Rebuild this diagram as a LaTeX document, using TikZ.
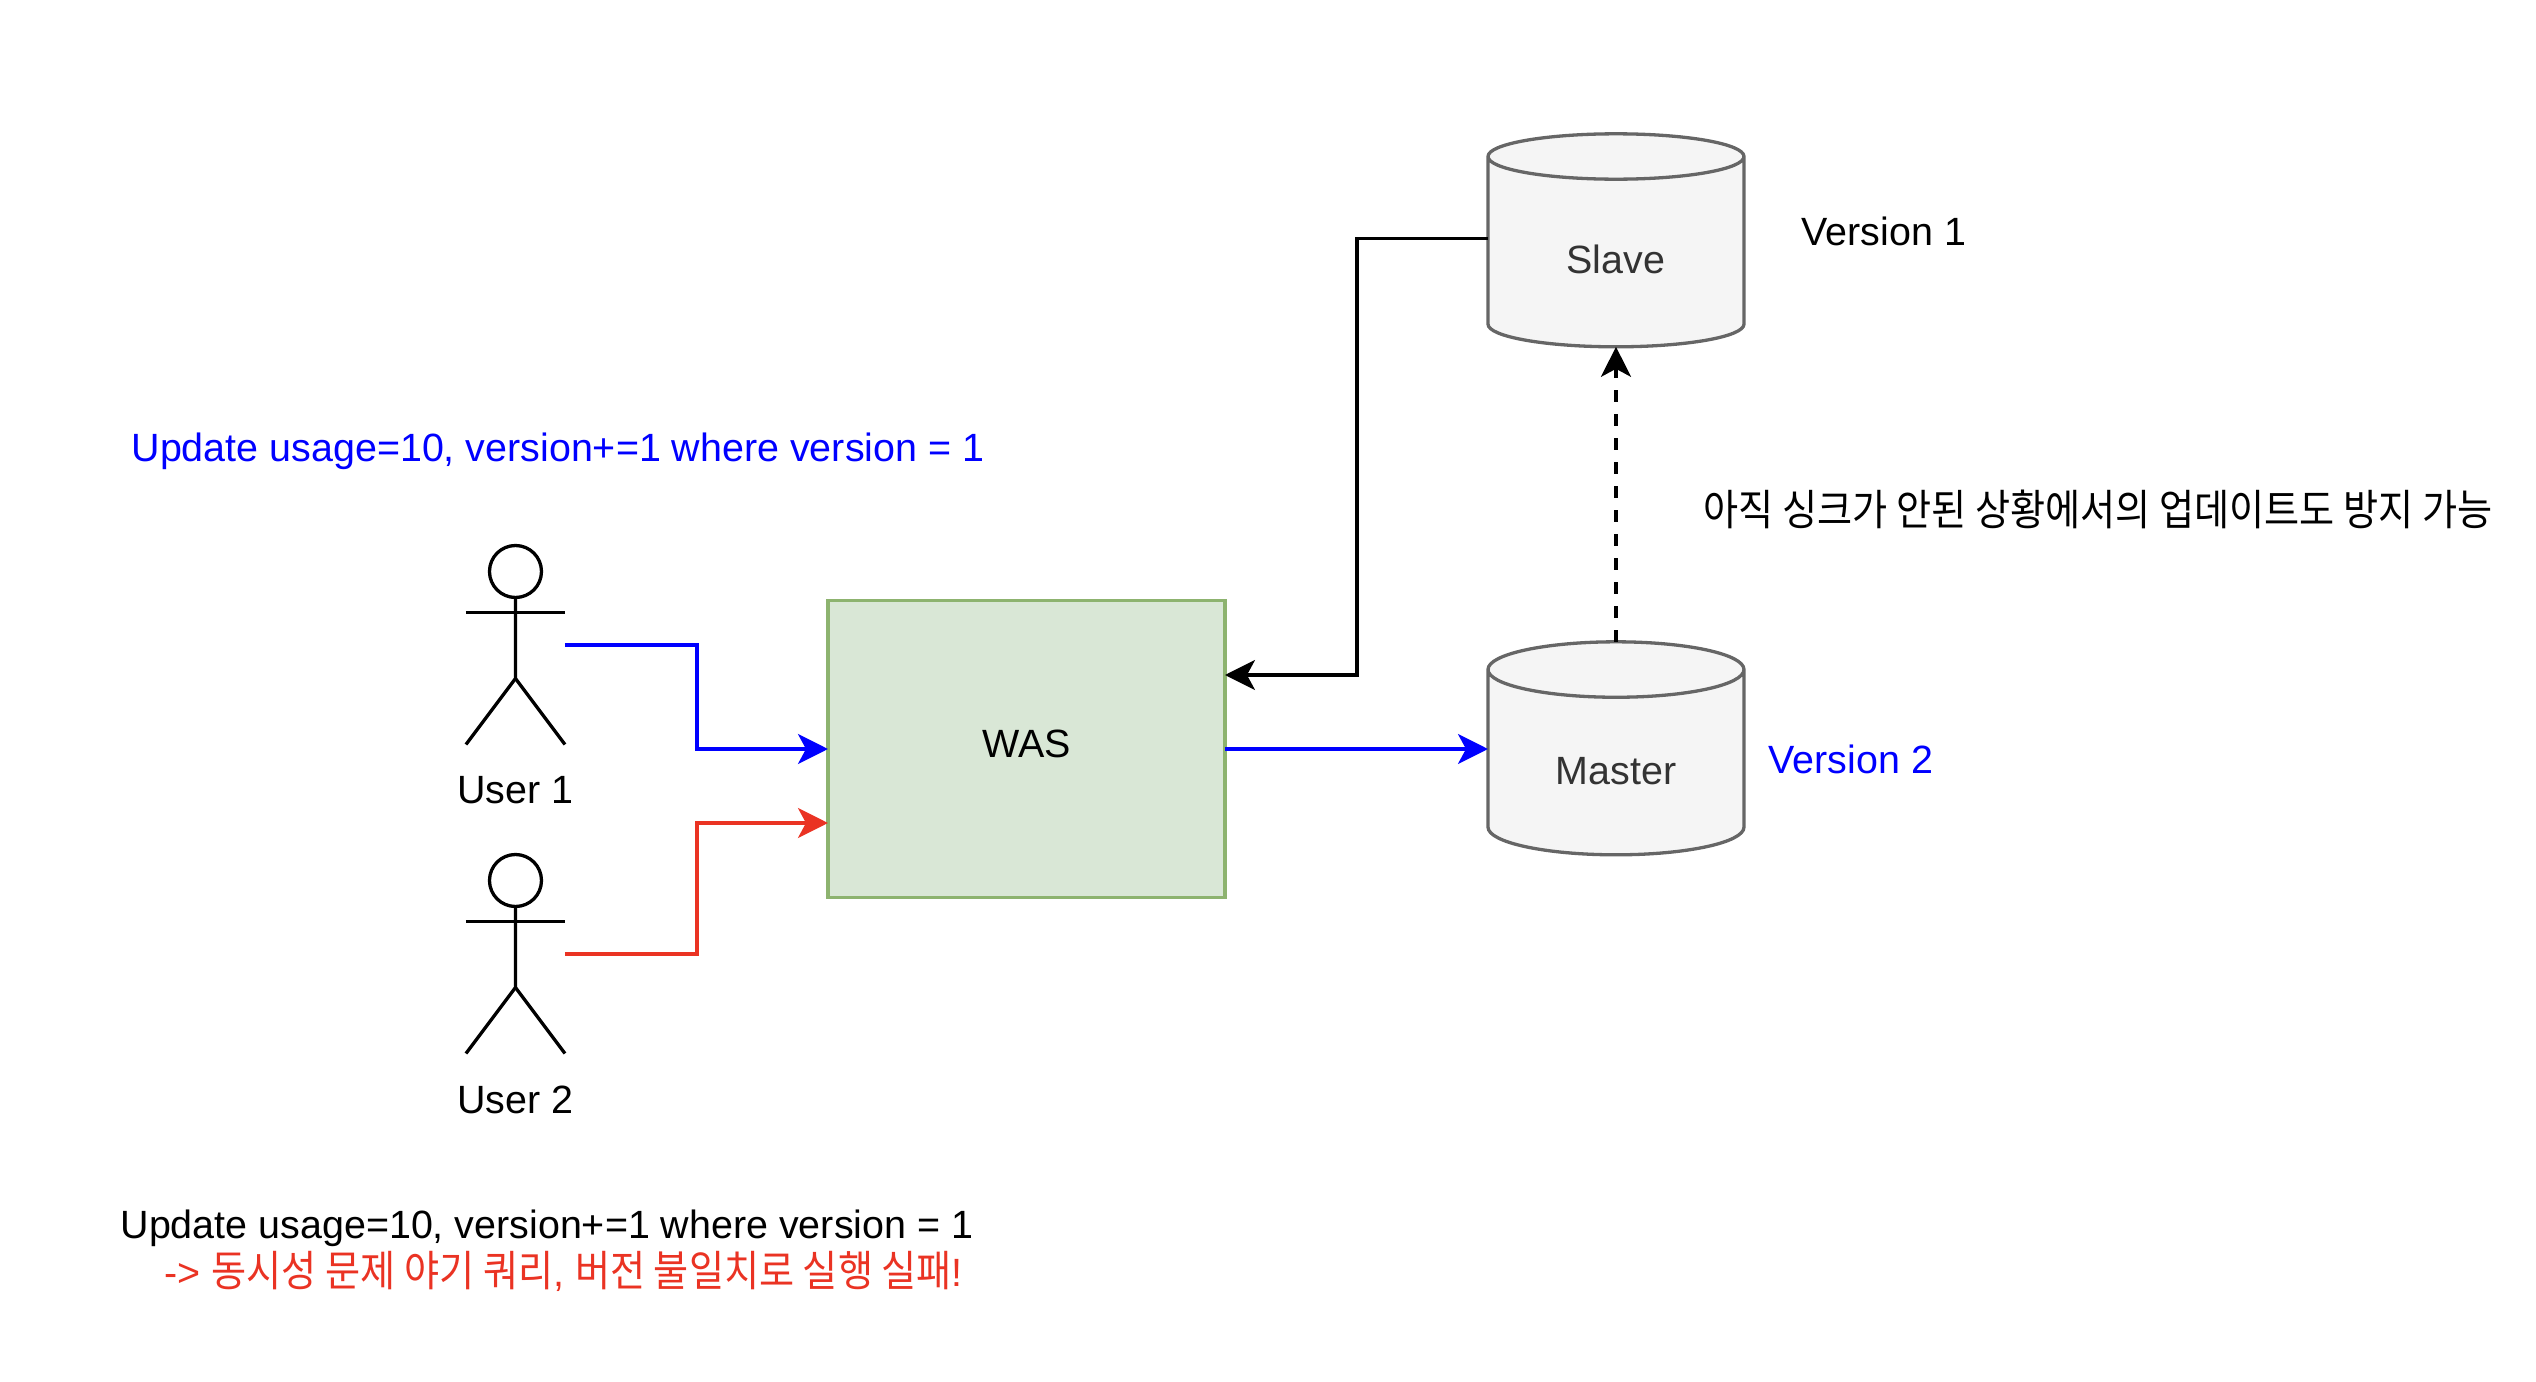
\documentclass[tikz,border=0pt]{standalone}
\usepackage{fontspec}
\usepackage{xcolor}
\usepackage{tikz}
\usetikzlibrary{positioning,arrows.meta,shapes.geometric}
\setmainfont{Liberation Sans}
\newfontfamily\kr[Scale=1.08,FakeStretch=0.896]{Noto Sans CJK KR}
\definecolor{WASFill}{HTML}{D9E7D6}
\definecolor{WASLine}{HTML}{8DB36F}
\definecolor{DBFill}{HTML}{F5F5F5}
\definecolor{DBLine}{HTML}{666666}
\definecolor{DBText}{HTML}{333333}
\definecolor{FailRed}{HTML}{EA3323}
\tikzset{
  txt/.style={inner sep=0pt,outer sep=0pt,font=\fontsize{11.22}{13}\selectfont},
  dbnode/.style={shape=cylinder,shape border rotate=90,shape aspect=0.46,draw=DBLine,fill=DBFill,text=DBText,line width=0.33mm,minimum width=25.6mm,minimum height=21.3mm,inner sep=0pt,outer sep=0pt,font=\fontsize{11.22}{13}\selectfont},
  actorbox/.style={minimum width=9.9mm,minimum height=19.9mm,inner sep=0pt,outer sep=0pt},
  actorline/.style={line width=0.33mm,black},
  conn/.style={line width=0.33mm,-{Stealth[length=3mm,width=3mm,inset=0.8mm]}},
}

\begin{document}
\begin{tikzpicture}
\useasboundingbox (-102.65mm,-63.3mm) rectangle (150.95mm,74.9mm);
\node[draw=WASLine,fill=WASFill,line width=0.33mm,minimum width=39.7mm,minimum height=29.7mm,inner sep=0pt,outer sep=0pt,txt] (was) {\raisebox{1mm}{WAS}};
\node[actorbox,left=26.3mm of was,yshift=10.4mm] (user1) {};
\node[actorbox,below=11mm of user1] (user2) {};
\node[txt,below=3.2mm of user1] (user1lbl) {User 1};
\node[txt,below=3.2mm of user2] (user2lbl) {User 2};
\node[dbnode,right=26.3mm of was,yshift=-1.4mm] (master) {\raisebox{-2.1mm}[0pt][0pt]{Master}};
\node[dbnode,above=29.5mm of master] (slave) {\raisebox{-2.1mm}[0pt][0pt]{Slave}};
\node[txt] (ver1) at (85.75mm,51.8mm) {Version 1};
\node[txt,text=blue] (ver2) at (82.45mm,-1mm) {Version 2};
\node[txt] (syncnote) at (107.15mm,24mm) {\kr 아직 싱크가 안된 상황에서의 업데이트도 방지 가능};
\node[txt,text=blue] (query1) at (-46.85mm,29.8mm) {Update usage=10, version+=1 where version = 1};
\node[txt,align=left] (query2) at (-47.95mm,-50.2mm) {Update usage=10, version+=1 where version = 1\\[0.2mm]
  \hspace*{4.4mm}\textcolor{FailRed}{-> {\kr 동시성 문제 야기 쿼리}, {\kr 버전 불일치로 실행 실패}!}};
% stick figures
\foreach \usr in {user1,user2} {
  \draw[actorline] ([yshift=-2.6mm]\usr.north) circle (2.6mm);
  \draw[actorline] ([yshift=-6.7mm]\usr.north west)--([yshift=-6.7mm]\usr.north east);
  \draw[actorline] ([yshift=-5.2mm]\usr.north)--([yshift=-13.3mm]\usr.north)--(\usr.south west);
  \draw[actorline] ([yshift=-13.3mm]\usr.north)--(\usr.south east);
}
\draw[conn,blue] (user1.east)--++(13.2mm,0)|-(was.west);
\draw[conn,FailRed] (user2.east)--++(13.2mm,0)|-([yshift=-7.4mm]was.west);
\draw[conn,blue] (was.east)--(was.east -| master.west);
\draw[conn,black] ([yshift=1.4mm]slave.west)--++(-13.1mm,0)|-([yshift=7.4mm]was.east);
\draw[conn,black,dashed,dash pattern=on 1.2mm off 1.2mm] (master.north)--(slave.south);
\end{tikzpicture}
\end{document}
